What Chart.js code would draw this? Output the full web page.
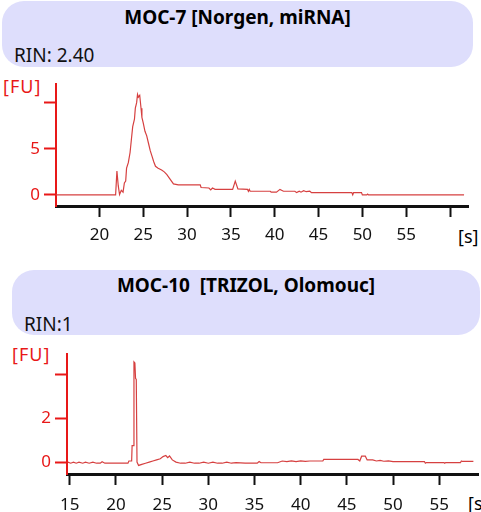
<!DOCTYPE html>
<html>
<head>
<meta charset="utf-8">
<script src="https://cdn.jsdelivr.net/npm/chart.js@4"></script>
<style>
  body { margin: 0; width: 481px; height: 512px; overflow: hidden; background: #fff; position: relative; font-family: 'Noto Sans', sans-serif; }
  .box { position: absolute; background: #dedefc; border-radius: 22px; }
  .title { position: absolute; left: 0; right: 0; text-align: center; font-weight: bold; font-size: 19px; line-height: 19px; color: #000; white-space: pre; }
  .rin { position: absolute; font-size: 19px; line-height: 19px; color: #111; white-space: pre; }
  .unit { position: absolute; font-size: 18px; line-height: 18px; white-space: pre; }
  canvas { position: absolute; left: 0; }
</style>
</head>
<body>

<div class="box" style="left:2px; top:1px; width:471px; height:66px;">
  <div class="title" style="top:7px;">MOC-7 [Norgen, miRNA]</div>
</div>
<div class="rin" style="left:14px; top:46px;">RIN: 2.40</div>
<div class="unit" style="left:3px; top:77px; color:#e81818; letter-spacing:1px;">[FU]</div>
<div class="unit" style="left:458px; top:227px; color:#000;">[s]</div>
<canvas id="chart1" width="481" height="185" style="top:70px;"></canvas>

<div class="box" style="left:12px; top:270px; width:468px; height:65px;">
  <div class="title" style="top:6px;">MOC-10  [TRIZOL, Olomouc]</div>
</div>
<div class="rin" style="left:24px; top:315px;">RIN:1</div>
<div class="unit" style="left:12px; top:345px; color:#e81818; letter-spacing:1px;">[FU]</div>
<div class="unit" style="left:468px; top:494px; color:#000;">[s]</div>
<canvas id="chart2" width="481" height="172" style="top:340px;"></canvas>

<script>
// MOC-7 trace: migration time [s] vs fluorescence [FU]
const time1 = [
  15.0, 21.85, 22.0, 22.15, 22.3, 22.5, 22.7, 22.85, 23.0, 23.1,
  23.3, 23.5, 23.65, 23.8, 24.0, 24.1, 24.25, 24.35, 24.45, 24.6,
  24.75, 24.85, 25.0, 25.2, 25.4, 25.6, 25.8, 26.0, 26.2, 26.4,
  26.7, 27.1, 27.4, 27.7, 28.0, 28.45, 29.0, 31.5, 31.6, 32.5,
  32.7, 32.9, 33.2, 35.2, 35.5, 35.8, 36.9, 37.0, 37.1, 37.2,
  39.5, 39.6, 40.2, 40.6, 41.0, 42.3, 42.5, 42.8, 43.0, 43.3,
  43.6, 44.0, 44.2, 48.8, 48.9, 49.0, 49.9, 50.0, 50.5, 50.6,
  50.7, 61.6
];
const fu1 = [
  0, 0, 2.6, 1.0, 0.05, 0.5, 0.3, 1.3, 1.5, 2.9,
  3.5, 4.6, 6.0, 7.4, 8.2, 9.4, 10.0, 10.9, 10.6, 10.8,
  9.4, 8.4, 7.8, 6.9, 6.4, 5.6, 4.8, 4.2, 3.6, 3.1,
  2.9, 2.7, 2.5, 2.2, 1.8, 1.2, 1.1, 1.1, 0.8, 0.75,
  0.55, 0.75, 0.6, 0.6, 1.5, 0.65, 0.6, 0.4, 0.6, 0.4,
  0.4, 0.3, 0.3, 0.6, 0.4, 0.4, 0.25, 0.4, 0.3, 0.45,
  0.35, 0.4, 0.25, 0.25, 0.0, 0.25, 0.25, 0.0, 0.0, 0.1,
  0.0, 0.0
];
const xTicks1 = [20, 25, 30, 35, 40, 45, 50, 55, 60];
const xLabels1 = ['20', '25', '30', '35', '40', '45', '50', '55', ''];
const yTicks1 = [0, 5, 10];
const yLabels1 = ['0', '5', ''];

// MOC-10 trace
const time2 = [
  14.8, 15.1, 15.4, 15.7, 16.0, 16.4, 16.7, 17.1, 17.5, 17.9,
  18.3, 18.5, 18.8, 20.5, 21.3, 21.4, 21.7, 21.75, 21.9, 21.95,
  22.05, 22.12, 22.2, 22.28, 22.45, 22.8, 23.2, 23.6, 24.0, 24.4,
  24.8, 25.1, 25.4, 25.6, 25.8, 26.1, 26.5, 27.0, 27.5, 28.0,
  28.5, 29.0, 29.5, 30.0, 30.5, 31.0, 31.5, 32.0, 32.5, 33.0,
  34.0, 35.3, 35.5, 35.7, 37.5, 38.0, 38.5, 39.0, 39.5, 40.0,
  40.5, 41.0, 42.4, 42.5, 46.2, 46.4, 46.6, 47.0, 47.2, 47.8,
  48.2, 48.6, 49.0, 49.5, 50.0, 50.5, 53.4, 53.5, 53.6, 55.5,
  55.6, 55.7, 57.3, 57.4, 57.5, 58.7
];
const fu2 = [
  0.0, -0.05, 0.0, -0.05, 0.0, -0.05, 0.0, -0.05, 0.0, -0.05,
  -0.05, 0.02, -0.05, -0.05, -0.05, 0.05, 0.05, 0.75, 0.75, 4.55,
  4.5, 3.8, 3.75, 0.0, -0.15, -0.1, -0.05, 0.0, 0.05, 0.1,
  0.15, 0.25, 0.3, 0.2, 0.28, 0.1, 0.0, -0.05, -0.05, 0.0,
  -0.05, -0.05, 0.0, -0.05, 0.0, -0.05, -0.05, 0.0, -0.05, -0.02,
  -0.05, -0.05, 0.03, -0.03, -0.03, 0.05, 0.02, 0.06, 0.02, 0.06,
  0.03, 0.05, 0.05, 0.12, 0.12, 0.05, 0.27, 0.27, 0.1, 0.1,
  0.05, 0.08, 0.04, 0.06, 0.02, 0.02, 0.02, -0.05, -0.02, -0.02,
  -0.05, -0.02, -0.02, 0.05, 0.03, 0.03
];
const xTicks2 = [15, 20, 25, 30, 35, 40, 45, 50, 55];
const xLabels2 = ['15', '20', '25', '30', '35', '40', '45', '50', '55'];
const yTicks2 = [0, 2, 4];
const yLabels2 = ['0', '2', ''];

const RED = '#e81818';
const TRACE = 'rgb(214, 64, 64)';

Chart.defaults.font.family = "'Noto Sans', sans-serif";

function drawTrace(id, t, fu, xr, yr, xTicks, xLabels, yTicks, yLabels, box) {
    const ctx = document.getElementById(id).getContext('2d');
    return new Chart(ctx, {
        type: 'line',
        data: {
            datasets: [{
                data: t.map((x, i) => ({ x: x, y: fu[i] })),
                borderColor: TRACE,
                borderWidth: 1.2,
                pointRadius: 0,
                tension: 0,
                fill: false
            }]
        },
        options: {
            responsive: false,
            animation: false,
            events: [],
            layout: { padding: { left: 0, right: box.right, top: box.top, bottom: 0 } },
            plugins: { legend: { display: false }, tooltip: { enabled: false } },
            scales: {
                x: {
                    type: 'linear',
                    min: xr[0],
                    max: xr[1],
                    afterBuildTicks: s => { s.ticks = xTicks.map(v => ({ value: v })); },
                    afterFit: s => { s.height = box.xHeight; },
                    ticks: {
                        color: '#111',
                        font: { size: 17 },
                        padding: box.xPad,
                        autoSkip: false,
                        maxRotation: 0,
                        callback: (v, i) => xLabels[i]
                    },
                    grid: { drawOnChartArea: false, tickLength: 11, tickWidth: 2, tickColor: '#111' },
                    border: { color: '#111', width: 3 }
                },
                y: {
                    type: 'linear',
                    min: yr[0],
                    max: yr[1],
                    afterBuildTicks: s => { s.ticks = yTicks.map(v => ({ value: v })); },
                    afterFit: s => { s.width = box.left; },
                    ticks: {
                        color: RED,
                        font: { size: 17 },
                        padding: 4,
                        callback: (v, i) => yLabels[i]
                    },
                    grid: { drawOnChartArea: false, tickLength: 12, tickWidth: 2, tickColor: RED },
                    border: { color: RED, width: 2 }
                }
            }
        }
    });
}

drawTrace('chart1', time1, fu1, [15.05, 62.05], [-1.2, 12], xTicks1, xLabels1, yTicks1, yLabels1,
    { left: 56, right: 13, top: 14, xHeight: 49, xPad: 8 });
drawTrace('chart2', time2, fu2, [14.7, 59.2], [-0.54, 4.9], xTicks2, xLabels2, yTicks2, yLabels2,
    { left: 67, right: 3, top: 13, xHeight: 38, xPad: 10 });
</script>
</body>
</html>
